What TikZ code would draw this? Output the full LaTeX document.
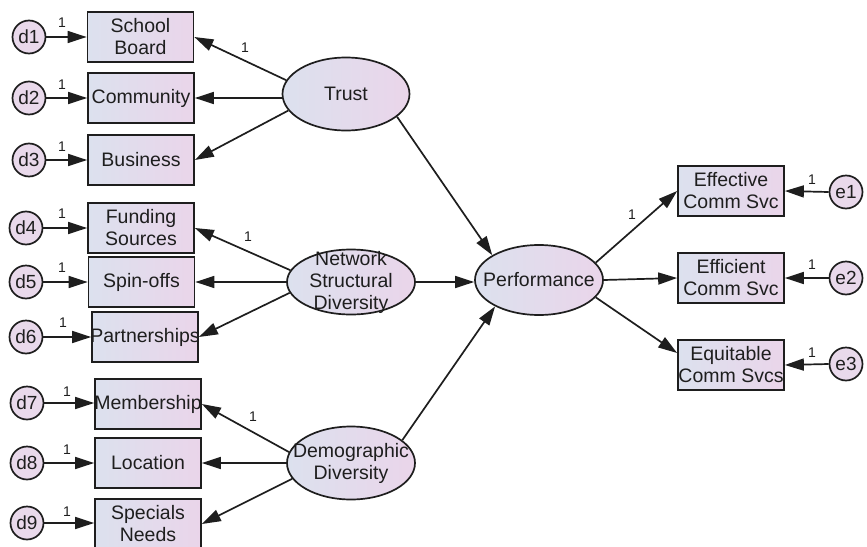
\documentclass[tikz,border=0pt]{standalone}
\usepackage{fontspec}
\setmainfont{Liberation Sans}
\usetikzlibrary{shapes.geometric,arrows.meta}
\definecolor{fillL}{HTML}{DCE1EE}
\definecolor{fillR}{HTML}{EAD5EA}
\definecolor{circ}{HTML}{E9D9EB}
\definecolor{ink}{HTML}{1E1E1E}
\begin{document}
\begin{tikzpicture}[x=1pt,y=-1pt,
 obs/.style={draw=ink, line width=1.7pt, left color=fillL, right color=fillR, minimum width=106pt, minimum height=50pt, inner sep=0pt},
 lat/.style={ellipse, draw=ink, line width=1.7pt, left color=fillL, right color=fillR, inner sep=0pt},
 err/.style={circle, draw=ink, line width=1.7pt, fill=circ, minimum size=33pt, inner sep=0pt, font=\fontsize{19}{22}\selectfont, text=ink},
 txt/.style={align=center, font=\fontsize{19.5}{22}\selectfont, text=ink, inner sep=0pt},
 one/.style={font=\fontsize{14}{16}\selectfont, text=ink, inner sep=0pt},
 arr/.style={draw=ink, line width=1.7pt, -{Triangle[length=19pt,width=12pt]}}]
\fill[white] (0,0) rectangle (867,546);
\useasboundingbox (0,0) rectangle (867,546);

% observed boxes
\node[obs] (sb) at (140.5,37) {};
\node[obs] (com) at (141,98) {};
\node[obs] (bus) at (141,160) {};
\node[obs] (fund) at (141,228) {};
\node[obs] (spin) at (141.5,282) {};
\node[obs] (part) at (145,337) {};
\node[obs] (memb) at (148,404) {};
\node[obs] (loc) at (148,463) {};
\node[obs] (spec) at (148,524) {};
\node[obs] (eff) at (731,191) {};
\node[obs] (effi) at (731,278) {};
\node[obs] (equi) at (731,365) {};

\node[txt] (sbT) at (sb) {School\\Board};
\node[txt] (comT) at (com) {Community};
\node[txt] (busT) at (bus) {Business};
\node[txt] (fundT) at (fund) {Funding\\Sources};
\node[txt] (spinT) at (spin) {Spin-offs};
\node[txt] (partT) at (part) {Partnerships};
\node[txt] (membT) at (memb) {Membership};
\node[txt] (locT) at (loc) {Location};
\node[txt] (specT) at (spec) {Specials\\Needs};
\node[txt] (effT) at (eff) {Effective\\Comm Svc};
\node[txt] (effiT) at (effi) {Efficient\\Comm Svc};
\node[txt] (equiT) at (equi) {Equitable\\Comm Svcs};

% latent ellipses
\node[lat, minimum width=127pt, minimum height=73pt] (trust) at (346,94) {};
\node[lat, minimum width=128pt, minimum height=65pt] (nsd) at (351,282) {};
\node[lat, minimum width=128pt, minimum height=70pt] (perf) at (539,280) {};
\node[lat, minimum width=128pt, minimum height=73pt] (dd) at (351,463) {};
\node[txt] (trustT) at (trust) {Trust};
\node[txt] (nsdT) at (nsd) {Network\\Structural\\Diversity};
\node[txt] (perfT) at (perf) {Performance};
\node[txt] (ddT) at (dd) {Demographic\\Diversity};

% error circles
\node[err] (d1) at (29,37) {d1};
\node[err] (d2) at (29,98) {d2};
\node[err] (d3) at (29,160) {d3};
\node[err] (d4) at (26,228) {d4};
\node[err] (d5) at (26,282) {d5};
\node[err] (d6) at (26,337) {d6};
\node[err] (d7) at (27,403) {d7};
\node[err] (d8) at (27,463) {d8};
\node[err] (d9) at (27,523) {d9};
\node[err] (e1) at (846,192) {e1};
\node[err] (e2) at (846,278) {e2};
\node[err] (e3) at (846,364) {e3};

% error arrows
\foreach \d/\b in {d1/sb,d2/com,d3/bus,d4/fund,d5/spin,d6/part,d7/memb,d8/loc,d9/spec}
  \draw[arr] (\d.east) -- (\d.east -| \b.west);
\draw[arr] (e1.west) -- (eff.east);
\draw[arr] (e2.west) -- (effi.east);
\draw[arr] (e3.west) -- (equi.east);

% loadings
\draw[arr] (trust.167) -- (sb.east);
\draw[arr] (com.east -| trust.west) -- (com.east);
\draw[arr] (trust.196) -- (bus.east);
\draw[arr] (nsd.169) -- (fund.east);
\draw[arr] (spin.east -| nsd.west) -- (spin.east);
\draw[arr] (nsd.190) -- (part.east);
\draw[arr] (dd.170) -- (memb.east);
\draw[arr] (loc.east -| dd.west) -- (loc.east);
\draw[arr] (dd.195) -- (spec.east);

% structural paths
\draw[arr] (trust.-24) -- (perf.152);
\draw[arr] (nsd.east) -- (nsd.east -| perf.west);
\draw[arr] (dd.24) -- (perf.211);
\draw[arr] (perf.17) -- (eff.west);
\draw[arr] (perf.east) -- (effi.west);
\draw[arr] (perf.-17) -- ([yshift=12pt]equi.west);

% labels "1"
\node[one] (l1) at (62,23) {1};
\node[one] (l2) at (62,85) {1};
\node[one] (l3) at (62,147) {1};
\node[one] (l4) at (62,214) {1};
\node[one] (l5) at (62,268) {1};
\node[one] (l6) at (63,323) {1};
\node[one] (l7) at (67,392) {1};
\node[one] (l8) at (67,450) {1};
\node[one] (l9) at (67,512) {1};
\node[one] (ls) at (245,48) {1};
\node[one] (lf) at (248,237) {1};
\node[one] (lm) at (253,417) {1};
\node[one] (lp) at (632,215) {1};
\node[one] (le1) at (812,180) {1};
\node[one] (le2) at (812,265) {1};
\node[one] (le3) at (812,353) {1};
\end{tikzpicture}
\end{document}
